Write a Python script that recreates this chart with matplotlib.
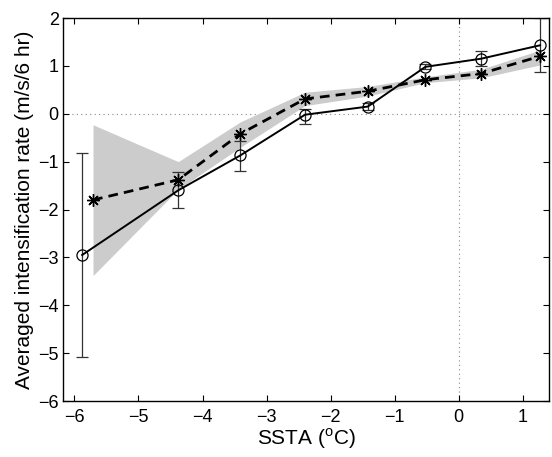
import matplotlib
matplotlib.use("Agg")
import matplotlib.pyplot as plt
import numpy as np

plt.rcParams['font.family'] = ['Liberation Sans', 'DejaVu Sans']
plt.rcParams['mathtext.fontset'] = 'custom'
plt.rcParams['mathtext.rm'] = 'Liberation Sans'

# Observed (circles, solid) with error bars
obs_x = [-5.88, -4.38, -3.41, -2.40, -1.42, -0.52, 0.35, 1.27]
obs_y = [-2.95, -1.60, -0.87, -0.02, 0.15, 0.98, 1.15, 1.43]
obs_hi = [-0.82, -1.22, -0.56, 0.10, 0.22, 1.03, 1.32, 1.99]
obs_lo = [-5.09, -1.97, -1.19, -0.21, 0.08, 0.93, 0.99, 0.87]

# Model (asterisks, dashed) with shaded range
mod_x = [-5.71, -4.38, -3.41, -2.40, -1.42, -0.52, 0.35, 1.27]
mod_y = [-1.80, -1.38, -0.42, 0.31, 0.47, 0.71, 0.84, 1.20]
mod_hi = [-0.23, -1.00, -0.17, 0.45, 0.57, 0.77, 0.93, 1.33]
mod_lo = [-3.38, -1.58, -0.70, 0.17, 0.37, 0.65, 0.75, 1.02]

xticks = [-6, -5, -4, -3, -2, -1, 0, 1]
yticks = [-6, -5, -4, -3, -2, -1, 0, 1, 2]

fig = plt.figure(figsize=(5.52, 4.57), dpi=100)
ax = fig.add_axes([0.114, 0.1225, 0.8806, 0.8381])

ax.fill_between(mod_x, mod_lo, mod_hi, color='#cccccc', lw=0, zorder=1)
ax.axhline(0, color='#888888', ls=(0, (1, 3)), lw=0.8, zorder=0.5)
ax.axvline(0, color='#888888', ls=(0, (1, 3)), lw=0.8, zorder=0.5)

obs_y_a = np.array(obs_y)
yerr = [obs_y_a - np.array(obs_lo), np.array(obs_hi) - obs_y_a]
ax.errorbar(obs_x, obs_y, yerr=yerr, fmt='none', ecolor='#333333',
            elinewidth=0.9, capsize=4, capthick=0.9, zorder=2)
ax.plot(mod_x, mod_y, color='black', ls=(0, (3.5, 2.2)), lw=2.0,
        marker=(8, 2, 0), ms=9, mew=1.0, mec='black', zorder=3)
ax.plot(obs_x, obs_y, color='black', ls='-', lw=1.4,
        marker='o', ms=8, mfc='none', mec='black', mew=0.9, zorder=4)

ax.set_xlim(-6.18, 1.41)
ax.set_ylim(-6, 2)
ax.set_xticks(xticks)
ax.set_yticks(yticks)
ax.set_xticklabels([("\u2212%d" % -t) if t < 0 else str(t) for t in xticks])
ax.set_yticklabels([("\u2212%d" % -t) if t < 0 else str(t) for t in yticks])
ax.tick_params(direction='in', top=True, right=True, length=4, width=0.8,
               labelsize=13)
ax.tick_params(axis='x', pad=6)
ax.tick_params(axis='y', pad=3)
for s in ax.spines.values():
    s.set_linewidth(1.0)

ax.set_xlabel(r'SSTA ($^{\rm o}$C)', fontsize=15, labelpad=0)
ax.set_ylabel('Averaged intensification rate (m/s/6 hr)', fontsize=15, labelpad=3)

fig.savefig('out.png', dpi=100)
